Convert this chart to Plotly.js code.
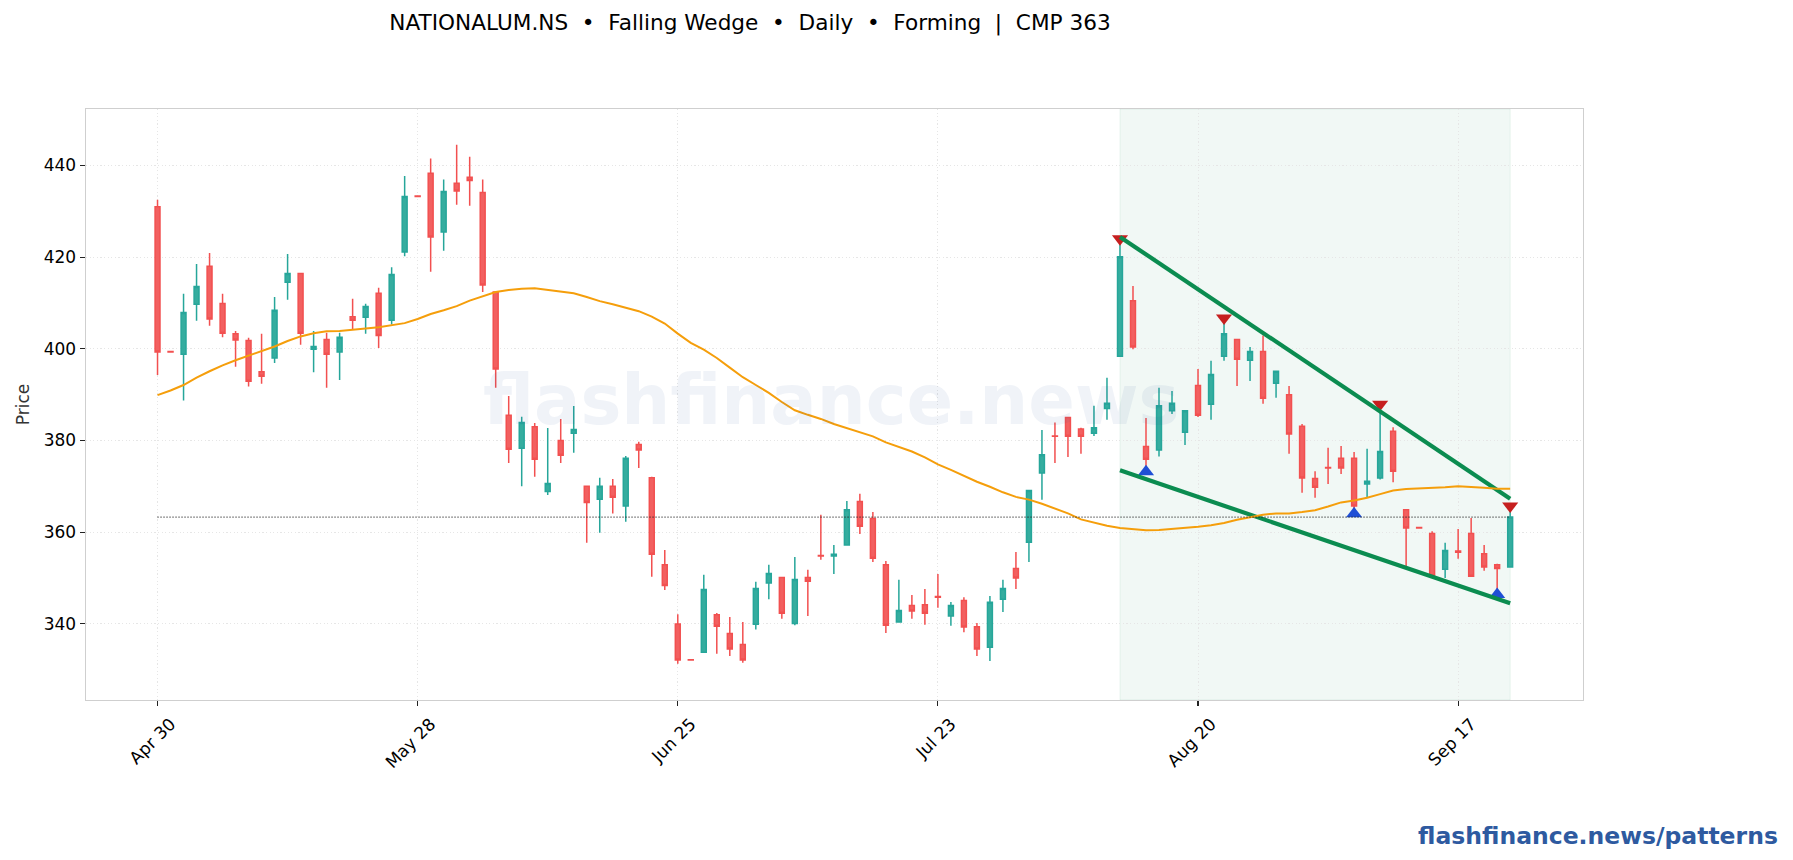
<!DOCTYPE html>
<html>
<head>
<meta charset="utf-8">
<script src="https://cdn.plot.ly/plotly-3.0.1.min.js"></script>
<style>html,body{margin:0;padding:0;background:#fff}</style>
</head>
<body>
<div id="chart" style="width:1793px;height:860px"></div>
<script>
const tickIndex = [0, 20, 40, 60, 80, 100];
const tickLabels = ["Apr 30", "May 28", "Jun 25", "Jul 23", "Aug 20", "Sep 17"];
const yTicks = [340, 360, 380, 400, 420, 440];

const opens = [431,399.4,398.8,409.7,418,409.9,403.3,401.8,395,398,414.5,416.4,399.9,402,399.3,407,406.9,412.1,406.2,421.1,433.3,438.3,425.5,436.1,437.4,434.1,412.4,385.5,378.3,383,368.9,380,381.6,370,367.2,370,365.7,379.1,371.9,352.9,340,332.2,333.8,342,337.9,335.5,339.9,348.9,350.1,340.1,350.1,354.9,354.8,357.2,366.7,363,352.9,340.4,344,344.2,346,341.7,345.1,339.4,334.9,345.4,352.1,357.8,372.9,381,385,382.5,381.6,387,398.4,410.5,378.7,377.9,386.5,381.8,392,387.9,398.4,402,397.5,399.4,392.5,390,383.1,371.7,374.1,376.1,376.1,370.5,371.8,382,364.9,361,359.7,351.9,355.9,359.7,355.3,352.9,352.4];
const highs = [432.5,399.5,412,418.5,420.9,412,403.9,402.4,403.3,411.3,420.7,416.6,403.9,403.5,403.5,410.9,409.8,413.3,417.8,437.7,433.4,441.5,436.9,444.5,441.9,436.9,412.5,389.7,385.2,383.8,382.7,384.7,387.5,370.2,371.9,371.6,376.6,379.7,372.1,356.1,342.1,332.3,350.7,342.4,341.5,340.4,349.2,352.9,350.3,354.6,351.8,363.8,357.2,366.8,368.4,364.4,353.7,349.6,346.3,347.6,350.9,344.8,345.8,340.2,346.1,349.6,355.7,369.1,382.3,383.9,385,382.8,387.6,393.7,423.7,413.7,384.9,391.5,390.8,386.5,395.6,397.4,406.4,402,400.4,402.9,395.1,391.9,383.6,373.3,378.4,378.8,377.5,378.2,387.6,382.9,364.9,361.1,360.2,357.7,360.7,363.1,357.2,353.1,365.5];
const lows = [394.3,399.2,388.7,406.1,405,402.5,396.1,391.8,392.4,396.9,410.7,400.9,394.9,391.5,393.2,404.3,403.3,400.2,405.3,420.2,433.1,416.8,421.4,431.4,431.2,412.4,391.5,375.1,370,372.1,368.1,375.1,377.3,357.7,359.9,364.1,362.3,374,350.3,347.4,331.3,332,333.8,333.5,333,331.5,338.8,345.4,341.1,339.7,341.7,354,350.9,357.2,359.6,353.5,338,340.4,341.1,339.8,343.5,339.6,338.2,333,331.9,342.6,347.6,353.5,367.1,375.1,376.4,377.1,381,384.5,398.4,399.9,373.6,376.5,385.8,379,385.1,384.5,397.4,391.9,393,388,389.3,377.1,368.6,367.5,370.5,372.7,364.3,367.6,371.5,370.9,352.4,360.8,350.2,350,354.2,350.4,351.6,346.4,352.4];
const closes = [399.3,399.3,407.9,413.6,406.5,403.4,401.9,392.9,394,408.4,416.4,403.4,400.5,398.8,402.5,406.2,409.2,402.9,416.2,433.2,433.2,424.4,434.3,434.4,436.7,413.9,395.6,378.1,383.9,375.9,370.6,376.8,382.4,366.5,370,367.6,376.1,377.9,355.2,348.4,332.1,332.1,347.5,339.5,334.5,332.1,347.7,351,342.3,349.7,349.3,354.8,355.2,364.9,361.3,354.3,339.7,342.9,342.8,342.3,345.8,344,339.3,334.5,344.7,347.7,350,369.1,376.9,380.9,380.9,380.9,382.8,388.1,420.1,400.4,375.9,387.6,388.1,386.5,385.5,394.4,403.3,397.7,399.4,389.2,395.1,381.4,371.8,369.8,374,374,365.7,371.1,377.6,373.3,360.9,360.9,350.5,356,355.6,350.4,352.4,352.1,363.3];
const movingAvg = [389.9,390.9,392.1,393.7,395.1,396.4,397.5,398.5,399.5,400.5,401.7,402.7,403.4,403.8,403.9,404.1,404.4,404.7,405.1,405.6,406.5,407.6,408.4,409.3,410.5,411.4,412.4,412.8,413.1,413.2,412.8,412.4,412.1,411.3,410.4,409.7,409,408.2,407,405.5,403.3,401.3,399.8,398,395.9,393.8,392.1,390.4,388.4,386.6,385.6,384.7,383.6,382.7,381.8,380.9,379.6,378.6,377.6,376.3,374.8,373.6,372.3,371,369.9,368.7,367.7,367.1,366.2,365.1,364.1,362.8,362.1,361.4,360.9,360.7,360.4,360.5,360.7,360.9,361.2,361.5,362,362.7,363.3,363.8,364.1,364.1,364.4,364.8,365.6,366.5,366.9,367.5,368.3,369.1,369.4,369.5,369.7,369.8,370,369.9,369.7,369.5,369.5];

const swingHighX = [74, 82, 94, 104];
const swingHighY = [424.0, 406.7, 387.9, 365.7];
const swingLowX = [76, 92, 103];
const swingLowY = [373.2, 364.0, 346.4];
const upperWedgeX = [74, 104];
const upperWedgeY = [424.4, 367.3];
const lowerWedgeX = [74, 104];
const lowerWedgeY = [373.5, 344.5];
const cmpX = [0, 104];
const cmpY = [363.3, 363.3];
const zoneX = [74, 104];

const xIndex = opens.map((_, i) => i);

const traces = [
  {type: "candlestick", x: xIndex, open: opens, high: highs, low: lows, close: closes,
   increasing: {line: {color: "#26A69A", width: 1.5}, fillcolor: "#35AD9F"},
   decreasing: {line: {color: "#F25050", width: 1.5}, fillcolor: "#F26060"},
   whiskerwidth: 0, showlegend: false, hoverinfo: "skip"},
  {type: "scatter", mode: "markers", x: swingHighX, y: swingHighY,
   marker: {symbol: "triangle-down", size: 14, color: "#C61F1F"}, showlegend: false, hoverinfo: "skip"},
  {type: "scatter", mode: "markers", x: swingLowX, y: swingLowY,
   marker: {symbol: "triangle-up", size: 14, color: "#1F4FD6"}, showlegend: false, hoverinfo: "skip"},
  {type: "scatter", mode: "lines", x: upperWedgeX, y: upperWedgeY,
   line: {color: "#0B8C50", width: 4.2}, showlegend: false, hoverinfo: "skip"},
  {type: "scatter", mode: "lines", x: lowerWedgeX, y: lowerWedgeY,
   line: {color: "#0B8C50", width: 4.2}, showlegend: false, hoverinfo: "skip"},
  {type: "scatter", mode: "lines", x: xIndex, y: movingAvg,
   line: {color: "#F59E0B", width: 2}, showlegend: false, hoverinfo: "skip"},
  {type: "scatter", mode: "lines", x: cmpX, y: cmpY,
   line: {color: "#222222", width: 1.2, dash: "1px,2px"}, showlegend: false, hoverinfo: "skip"}
];

const layout = {
  width: 1793, height: 860, autosize: false,
  paper_bgcolor: "#ffffff", plot_bgcolor: "#ffffff",
  font: {family: "DejaVu Sans", color: "#000000", size: 17},
  margin: {l: 86, r: 209.5, t: 109, b: 160, pad: 0},
  boxgap: 0.46,
  showlegend: false,
  title: {text: "NATIONALUM.NS  \u2022  Falling Wedge  \u2022  Daily  \u2022  Forming  |  CMP 363",
          font: {family: "DejaVu Sans", size: 21.6, color: "#000000"},
          x: 750 / 1793, xanchor: "center", xref: "container", y: 1 - 22 / 860, yanchor: "middle"},
  xaxis: {
    type: "linear", range: [-5.5, 109.6], rangeslider: {visible: false},
    tickmode: "array", tickvals: tickIndex, ticktext: tickLabels, tickangle: -45,
    ticks: "outside", ticklen: 5, tickwidth: 1.1, tickcolor: "#222222",
    ticklabelshift: 13, ticklabelstandoff: 1,
    tickfont: {family: "DejaVu Sans", size: 17, color: "#000000"},
    showgrid: true, gridcolor: "#E6E6E6", griddash: "1.2px,2.4px", gridwidth: 1,
    showline: true, linecolor: "#CFCFCF", linewidth: 1.4, mirror: true, zeroline: false
  },
  yaxis: {
    type: "linear", range: [323.4, 452.3],
    tickmode: "array", tickvals: yTicks, ticktext: yTicks.map(String),
    ticks: "outside", ticklen: 5, tickwidth: 1.1, tickcolor: "#222222",
    tickfont: {family: "DejaVu Sans", size: 17, color: "#000000"},
    showgrid: true, gridcolor: "#E6E6E6", griddash: "1.2px,2.4px", gridwidth: 1,
    showline: true, linecolor: "#CFCFCF", linewidth: 1.4, mirror: true, zeroline: false,
    title: {text: "Price", font: {family: "DejaVu Sans", size: 17, color: "#333333"}, standoff: 9}
  },
  shapes: [
    {type: "rect", xref: "x", yref: "paper", x0: zoneX[0], x1: zoneX[1], y0: 0, y1: 1,
     fillcolor: "rgba(11,140,80,0.06)", line: {color: "rgba(11,140,80,0.08)", width: 1}, layer: "below"}
  ],
  annotations: [
    {text: "<b>flashfinance.news</b>", xref: "paper", yref: "paper", x: (831 - 86) / 1497.5, y: (700 - 400) / 591,
     xanchor: "center", yanchor: "middle", showarrow: false,
     font: {family: "DejaVu Sans", size: 68.8, color: "rgba(46,90,160,0.07)"}},
    {text: "<b>flashfinance.news/patterns</b>", xref: "paper", yref: "paper", x: (1781 - 86) / 1497.5, y: (700 - 836) / 591,
     xanchor: "right", yanchor: "middle", showarrow: false,
     font: {family: "DejaVu Sans", size: 23.5, color: "#2E5AA0"}}
  ]
};

Plotly.newPlot("chart", traces, layout, {displayModeBar: false, staticPlot: true});
</script>
</body>
</html>
